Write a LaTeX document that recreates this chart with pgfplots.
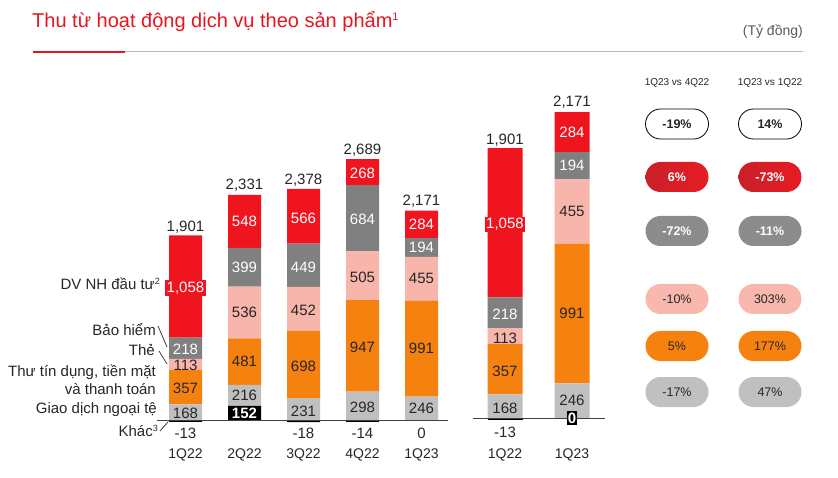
\documentclass[border=0pt]{standalone}
\usepackage{pgfplots}
\usepackage{pgfplotstable}
\pgfplotsset{compat=1.18}
\usepackage{fontspec}
\setmainfont{Liberation Sans}
\definecolor{cred}{HTML}{F0141E}
\definecolor{cdgray}{HTML}{808080}
\definecolor{cpink}{HTML}{F8B5AB}
\definecolor{corange}{HTML}{F5820F}
\definecolor{clgray}{HTML}{BFBFBF}
\definecolor{ctxt}{HTML}{262626}
\definecolor{ctitle}{HTML}{E8141E}
\definecolor{cpillred}{HTML}{E81C24}
\definecolor{cpillredd}{HTML}{C8202A}
\definecolor{cpillgray}{HTML}{8C8C8C}
\definecolor{cpillpink}{HTML}{F8B8AE}
\definecolor{cpilllg}{HTML}{C0C0C0}
\protected\def\fs#1{\fontsize{#1}{#1}\selectfont}
\protected\def\sups#1#2{\raisebox{#2}{\fs{#1}\textsuperscript{}}}
\pgfplotstableread{
x khac gd ttd the bh dv tot
0 -13 168 357 113 218 1058 1901
1 152 216 481 536 399 548 2331
2 -18 231 698 452 449 566 2378
3 -14 298 947 505 684 268 2689
4 0 246 991 455 194 284 2171
}\leftdata
\pgfplotstableread{
x khac gd ttd the bh dv tot
0 -13 168 357 113 218 1058 1901
1 0 246 991 455 194 284 2171
}\rightdata
\pgfplotsset{
  lab/.style 2 args={only marks, mark=none, nodes near coords,
    every node near coord/.append style={anchor=center, font=\fs{15}, text=#1, inner sep=1.5pt, #2}},
  /pgf/number format/.cd, assume math mode=true, 1000 sep={,},
}
\begin{document}
\begin{tikzpicture}[x=1pt,y=1pt]
\path[use as bounding box] (0,0) rectangle (838,477);
% title
\node[anchor=base west, inner sep=0, text=ctitle, font=\fs{20}] at (32,477-28) {Thu từ hoạt động dịch vụ theo sản phẩm\raisebox{7.5pt}{\fs{11}1}};
\draw[line width=1pt, color=black!27] (125,477-52) -- (803,477-52);
\draw[line width=1.6pt, color=ctitle] (33,477-52) -- (125,477-52);
\node[anchor=base east, inner sep=0, text=black!65, font=\fs{14}] at (803,477-36) {(Tỷ đồng)};

% left legend labels
\node[anchor=east, inner sep=0, font=\fs{15}, text=ctxt] at (160,477-284) {DV NH đầu tư\raisebox{5.5pt}{\fs{9}2}};
\node[anchor=east, inner sep=0, font=\fs{15}, text=ctxt] at (156,477-330) {Bảo hiểm};
\node[anchor=east, inner sep=0, font=\fs{15}, text=ctxt] at (155,477-350) {Thẻ};
\node[anchor=east, inner sep=0, font=\fs{15}, text=ctxt] at (156,477-372) {Thư tín dụng, tiền mặt};
\node[anchor=east, inner sep=0, font=\fs{15}, text=ctxt] at (156,477-389) {và thanh toán};
\node[anchor=east, inner sep=0, font=\fs{15}, text=ctxt] at (157,477-410) {Giao dịch ngoại tệ};
\node[anchor=east, inner sep=0, font=\fs{15}, text=ctxt] at (158,477-431) {Khác\raisebox{5.5pt}{\fs{9}3}};
\draw[black!75, line width=0.8pt] (158,477-326) -- (167,477-347);
\draw[black!75, line width=0.8pt] (159,477-351) -- (167,477-364);
\draw[black!75, line width=0.8pt] (160,477-431) -- (168,477-422);

% left axis: bars
\begin{axis}[
  at={(141.25pt,35.23pt)}, anchor=south west,
  x=59pt, y=0.0967pt,
  xmin=-0.75, xmax=4.5, ymin=-220, ymax=3000,
  hide axis, clip=false,
  ybar stacked, bar width=33pt,
]
\addplot[fill=black, draw=none] table[x=x, y=khac] {\leftdata};
\addplot[fill=clgray, draw=none] table[x=x, y=gd] {\leftdata};
\addplot[fill=corange, draw=none] table[x=x, y=ttd] {\leftdata};
\addplot[fill=cpink, draw=none] table[x=x, y=the] {\leftdata};
\addplot[fill=cdgray, draw=none] table[x=x, y=bh] {\leftdata};
\addplot[fill=cred, draw=none] table[x=x, y=dv] {\leftdata};
\end{axis}
% left axis: labels
\begin{axis}[
  at={(141.25pt,35.23pt)}, anchor=south west,
  x=59pt, y=0.0967pt,
  xmin=-0.75, xmax=4.5, ymin=-220, ymax=3000,
  hide axis, clip=false,
]
\addplot[lab={ctxt}{}, point meta=\thisrow{gd}] table[x=x, y expr={\thisrow{khac}+0.5*\thisrow{gd}}] {\leftdata};
\addplot[lab={ctxt}{}, point meta=\thisrow{ttd}] table[x=x, y expr={\thisrow{khac}+\thisrow{gd}+0.5*\thisrow{ttd}}] {\leftdata};
\addplot[lab={ctxt}{}, point meta=\thisrow{the}] table[x=x, y expr={\thisrow{khac}+\thisrow{gd}+\thisrow{ttd}+0.5*\thisrow{the}}] {\leftdata};
\addplot[lab={white}{}, point meta=\thisrow{bh}] table[x=x, y expr={\thisrow{khac}+\thisrow{gd}+\thisrow{ttd}+\thisrow{the}+0.5*\thisrow{bh}}] {\leftdata};
\addplot[lab={white}{fill=cred}, point meta=\thisrow{dv}] table[x=x, y expr={\thisrow{khac}+\thisrow{gd}+\thisrow{ttd}+\thisrow{the}+\thisrow{bh}+0.5*\thisrow{dv}}] {\leftdata};
\addplot[lab={ctxt}{anchor=south, inner sep=2pt, yshift=1.5pt}, point meta=\thisrow{tot}] table[x=x, y expr={\thisrow{khac}+\thisrow{gd}+\thisrow{ttd}+\thisrow{the}+\thisrow{bh}+\thisrow{dv}}] {\leftdata};
\draw[black!75, line width=0.8pt] (axis cs:-0.483,0) -- (axis cs:4.45,0);
\node[font=\fs{15}, text=ctxt, inner sep=0] at (axis cs:0,-129) {-13};
\node[font=\fs{15}\bfseries, text=white, inner sep=0] at (axis cs:1,76) {152};
\node[font=\fs{15}, text=ctxt, inner sep=0] at (axis cs:2,-129) {-18};
\node[font=\fs{15}, text=ctxt, inner sep=0] at (axis cs:3,-129) {-14};
\node[font=\fs{15}, text=ctxt, inner sep=0] at (axis cs:4,-129) {0};
\node[font=\fs{14}, text=ctxt, inner sep=0] at (axis cs:0,-357) {1Q22};
\node[font=\fs{14}, text=ctxt, inner sep=0] at (axis cs:1,-357) {2Q22};
\node[font=\fs{14}, text=ctxt, inner sep=0] at (axis cs:2,-357) {3Q22};
\node[font=\fs{14}, text=ctxt, inner sep=0] at (axis cs:3,-357) {4Q22};
\node[font=\fs{14}, text=ctxt, inner sep=0] at (axis cs:4,-357) {1Q23};
\end{axis}

% right axis: bars
\begin{axis}[
  at={(471.5pt,27.98pt)}, anchor=south west,
  x=67pt, y=0.141pt,
  xmin=-0.5, xmax=1.5, ymin=-220, ymax=2600,
  hide axis, clip=false,
  ybar stacked, bar width=35pt,
]
\addplot[fill=black, draw=none] table[x=x, y=khac] {\rightdata};
\addplot[fill=clgray, draw=none] table[x=x, y=gd] {\rightdata};
\addplot[fill=corange, draw=none] table[x=x, y=ttd] {\rightdata};
\addplot[fill=cpink, draw=none] table[x=x, y=the] {\rightdata};
\addplot[fill=cdgray, draw=none] table[x=x, y=bh] {\rightdata};
\addplot[fill=cred, draw=none] table[x=x, y=dv] {\rightdata};
\end{axis}
% right axis: labels
\begin{axis}[
  at={(471.5pt,27.98pt)}, anchor=south west,
  x=67pt, y=0.141pt,
  xmin=-0.5, xmax=1.5, ymin=-220, ymax=2600,
  hide axis, clip=false,
]
\addplot[lab={ctxt}{}, point meta=\thisrow{gd}] table[x=x, y expr={\thisrow{khac}+0.5*\thisrow{gd}}] {\rightdata};
\addplot[lab={ctxt}{}, point meta=\thisrow{ttd}] table[x=x, y expr={\thisrow{khac}+\thisrow{gd}+0.5*\thisrow{ttd}}] {\rightdata};
\addplot[lab={ctxt}{}, point meta=\thisrow{the}] table[x=x, y expr={\thisrow{khac}+\thisrow{gd}+\thisrow{ttd}+0.5*\thisrow{the}}] {\rightdata};
\addplot[lab={white}{}, point meta=\thisrow{bh}] table[x=x, y expr={\thisrow{khac}+\thisrow{gd}+\thisrow{ttd}+\thisrow{the}+0.5*\thisrow{bh}}] {\rightdata};
\addplot[lab={white}{fill=cred}, point meta=\thisrow{dv}] table[x=x, y expr={\thisrow{khac}+\thisrow{gd}+\thisrow{ttd}+\thisrow{the}+\thisrow{bh}+0.5*\thisrow{dv}}] {\rightdata};
\addplot[lab={ctxt}{anchor=south, inner sep=2pt, yshift=1.5pt}, point meta=\thisrow{tot}] table[x=x, y expr={\thisrow{khac}+\thisrow{gd}+\thisrow{ttd}+\thisrow{the}+\thisrow{bh}+\thisrow{dv}}] {\rightdata};
\draw[black!75, line width=0.8pt] (axis cs:-0.478,0) -- (axis cs:1.49,0);
\node[font=\fs{15}, text=ctxt, inner sep=0] at (axis cs:0,-99) {-13};
\node[fill=black, text=white, font=\fs{15}\bfseries, inner sep=1.2pt] at (axis cs:1,0) {0};
\node[font=\fs{14}, text=ctxt, inner sep=0] at (axis cs:0,-262) {1Q22};
\node[font=\fs{14}, text=ctxt, inner sep=0] at (axis cs:1,-262) {1Q23};
\end{axis}

% pills
\node[font=\fs{10}, text=ctxt] at (677,477-83) {1Q23 vs 4Q22};
\node[font=\fs{10}, text=ctxt] at (770,477-83) {1Q23 vs 1Q22};
\tikzset{pill/.style={minimum width=63pt, minimum height=30pt, rounded corners=15pt, inner sep=0, font=\fs{12.5}, text=ctxt}}
\node[pill, draw=black, line width=0.8pt, fill=white, font=\fs{12.5}\bfseries] at (677,477-124) {-19\%};
\node[pill, draw=black, line width=0.8pt, fill=white, font=\fs{12.5}\bfseries] at (770,477-124) {14\%};
\node[pill, left color=cpillredd, right color=cpillred, text=white, font=\fs{12.5}\bfseries] at (677,477-177) {6\%};
\node[pill, left color=cpillredd, right color=cpillred, text=white, font=\fs{12.5}\bfseries] at (770,477-177) {-73\%};
\node[pill, fill=cpillgray, text=white, font=\fs{12.5}\bfseries] at (677,477-231) {-72\%};
\node[pill, fill=cpillgray, text=white, font=\fs{12.5}\bfseries] at (770,477-231) {-11\%};
\node[pill, fill=cpillpink] at (677,477-299) {-10\%};
\node[pill, fill=cpillpink] at (770,477-299) {303\%};
\node[pill, fill=corange] at (677,477-346) {5\%};
\node[pill, fill=corange] at (770,477-346) {177\%};
\node[pill, fill=cpilllg] at (677,477-392) {-17\%};
\node[pill, fill=cpilllg] at (770,477-392) {47\%};
\end{tikzpicture}
\end{document}
